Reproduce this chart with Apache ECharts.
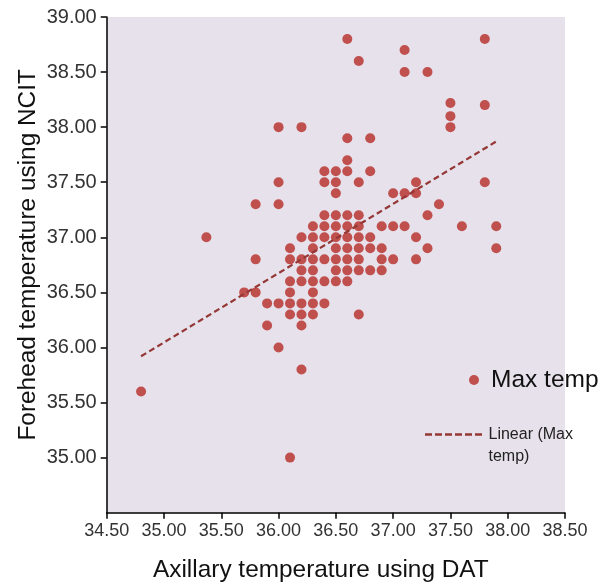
<!DOCTYPE html>
<html>
<head>
<meta charset="utf-8">
<script src="https://cdn.jsdelivr.net/npm/echarts@6/dist/echarts.min.js"></script>
<style>
html,body{margin:0;padding:0;background:#fff;}
#chart{width:607px;height:584px;}
</style>
</head>
<body>
<div id="chart"></div>
<script>
// Axillary temperature (DAT) values
var axillary = [
  36.6, 37.8,
  37.1,
  36.7,
  37.1, 37.3,
  37.5, 37.8,
  37.5,
  36.0, 36.2, 37.5,
  36.6, 36.8,
  36.6,
  36.4, 36.5, 36.6, 36.8,
  36.0, 36.4, 36.5, 36.7, 37.2, 37.8,
  36.5, 37.0, 37.1, 37.2,
  35.8, 36.0, 37.4,
  36.4, 36.5, 36.6, 36.7, 37.3,
  36.3, 36.4, 36.5, 36.6, 36.7, 36.9, 37.0, 37.1, 37.6, 37.9,
  35.37, 36.2, 36.3, 36.4, 36.5, 36.6, 36.7, 36.8, 37.2,
  36.1, 36.3, 36.5, 36.6, 36.7, 36.8, 36.9, 37.3, 37.9,
  35.8, 36.1, 36.2, 36.3, 36.4, 36.5, 36.6, 36.7, 36.9, 37.0, 37.2,
  36.2, 36.3, 36.5, 36.6, 36.7, 36.8, 36.9,
  36.1, 36.2, 36.3, 36.4, 36.5, 36.6,
  35.7, 35.8, 36.1, 36.3,
  35.9, 36.0, 36.1, 36.2, 36.3, 36.4,
  36.1, 36.2, 36.3, 36.7,
  35.9, 36.2,
  36.0,
  36.2,
  34.8,
  36.1
];
// Forehead temperature (NCIT) values, paired with axillary
var forehead = [
  38.8, 38.8,
  38.7,
  38.6,
  38.5, 38.5,
  38.22, 38.2,
  38.1,
  38.0, 38.0, 38.0,
  37.9, 37.9,
  37.7,
  37.6, 37.6, 37.6, 37.6,
  37.5, 37.5, 37.5, 37.5, 37.5, 37.5,
  37.4, 37.4, 37.4, 37.4,
  37.3, 37.3, 37.3,
  37.2, 37.2, 37.2, 37.2, 37.2,
  37.1, 37.1, 37.1, 37.1, 37.1, 37.1, 37.1, 37.1, 37.1, 37.1,
  37.0, 37.0, 37.0, 37.0, 37.0, 37.0, 37.0, 37.0, 37.0,
  36.9, 36.9, 36.9, 36.9, 36.9, 36.9, 36.9, 36.9, 36.9,
  36.8, 36.8, 36.8, 36.8, 36.8, 36.8, 36.8, 36.8, 36.8, 36.8, 36.8,
  36.7, 36.7, 36.7, 36.7, 36.7, 36.7, 36.7,
  36.6, 36.6, 36.6, 36.6, 36.6, 36.6,
  36.5, 36.5, 36.5, 36.5,
  36.4, 36.4, 36.4, 36.4, 36.4, 36.4,
  36.3, 36.3, 36.3, 36.3,
  36.2, 36.2,
  36.0,
  35.8,
  35.6,
  35.0
];
// Linear trendline endpoints
var trendX = [34.8, 37.9];
var trendY = [35.92, 37.87];

var scatterName = 'Max temp';
var trendName = 'Linear (Max temp)';

var scatterData = axillary.map(function (x, i) { return [x, forehead[i]]; });
var trendData = trendX.map(function (x, i) { return [x, trendY[i]]; });

var dashIcon = 'path://M0 0h7v2.4h-7zM10 0h7v2.4h-7zM20 0h7v2.4h-7zM30 0h7v2.4h-7zM40 0h7v2.4h-7zM50 0h7v2.4h-7z';

var chart = echarts.init(document.getElementById('chart'), null, {renderer: 'canvas'});
var fontFam = '"Liberation Sans", Arial, sans-serif';
chart.setOption({
  animation: false,
  backgroundColor: '#ffffff',
  grid: {
    left: 106.7, right: 42, top: 17, bottom: 71.3,
    containLabel: false, outerBoundsMode: 'none',
    show: true, backgroundColor: '#E6E1EB', borderWidth: 0
  },
  xAxis: {
    type: 'value', min: 34.5, max: 38.5, interval: 0.5,
    name: 'Axillary temperature using DAT',
    nameLocation: 'middle', nameGap: 46, nameMoveOverlap: false,
    nameTextStyle: {fontSize: 24.4, color: '#111', fontFamily: fontFam, padding: [0, 30, 0, 0]},
    axisLine: {show: true, onZero: false, lineStyle: {color: '#000', width: 1.5}},
    axisTick: {show: true, inside: false, length: 6, lineStyle: {color: '#000', width: 1.5}},
    axisLabel: {fontSize: 18, color: '#333', fontFamily: fontFam, margin: 9,
      formatter: function (v) { return v.toFixed(2); }, showMinLabel: true, showMaxLabel: true},
    splitLine: {show: false}
  },
  yAxis: {
    type: 'value', min: 34.5, max: 39, interval: 0.5,
    name: 'Forehead temperature using NCIT',
    nameLocation: 'middle', nameGap: 66, nameMoveOverlap: false,
    nameTextStyle: {fontSize: 24.4, color: '#111', fontFamily: fontFam, padding: [0, 0, 0, 20]},
    axisLine: {show: true, onZero: false, lineStyle: {color: '#000', width: 1.5}},
    axisTick: {show: true, inside: false, length: 6, lineStyle: {color: '#000', width: 1.5}},
    axisLabel: {fontSize: 20, color: '#333', fontFamily: fontFam, margin: 10,
      formatter: function (v) { return v.toFixed(2); }, showMinLabel: false, showMaxLabel: true},
    splitLine: {show: false}
  },
  legend: [
    {
      data: [scatterName], orient: 'vertical', left: 469, top: 367, padding: 0,
      icon: 'circle', itemWidth: 24, itemHeight: 10,
      textStyle: {fontSize: 24.5, color: '#111', fontFamily: fontFam, lineHeight: 26}
    },
    {
      data: [{name: trendName, icon: dashIcon}], orient: 'vertical', left: 425, top: 401.5, padding: 0,
      itemWidth: 60, itemHeight: 2.4,
      formatter: function () { return ' \nLinear (Max\ntemp)'; },
      textStyle: {fontSize: 16, color: '#222', fontFamily: fontFam, lineHeight: 22}
    }
  ],
  series: [
    {
      name: scatterName, type: 'scatter', data: scatterData,
      symbol: 'circle', symbolSize: 10,
      itemStyle: {color: '#C0504D', opacity: 1}
    },
    {
      name: trendName, type: 'line', data: trendData,
      symbol: 'none', showSymbol: false,
      lineStyle: {color: '#953735', width: 2.2, type: [6, 3.5]},
      itemStyle: {color: '#953735'}
    }
  ]
});
</script>
</body>
</html>
